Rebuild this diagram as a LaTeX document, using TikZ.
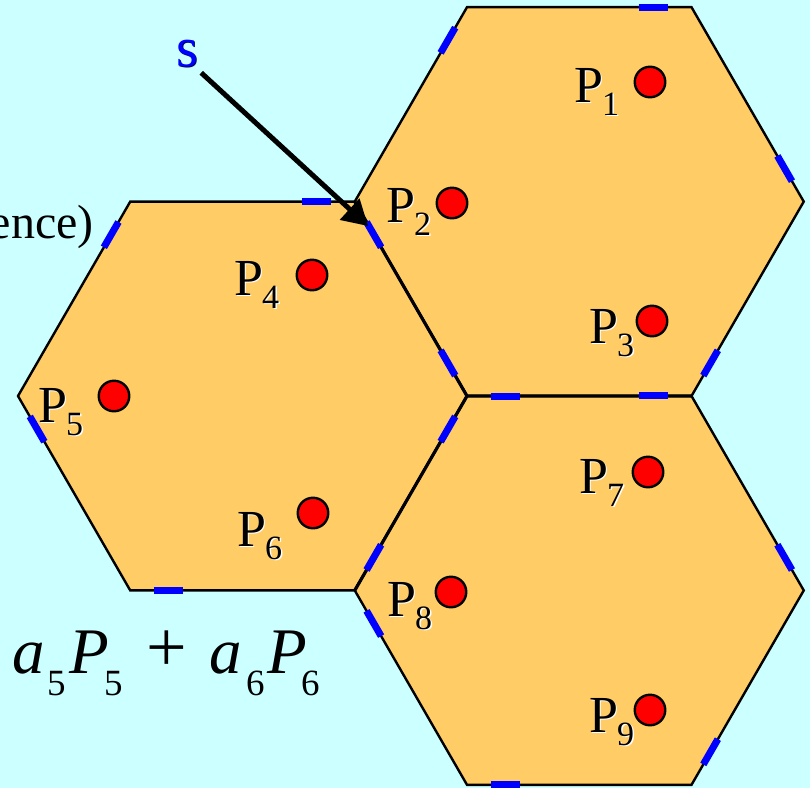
\documentclass[tikz,border=0pt]{standalone}
\usepackage{fontspec}
\setmainfont{Liberation Serif}
\usetikzlibrary{arrows.meta,calc}
\definecolor{bgcyan}{HTML}{CCFFFF}
\definecolor{hexfill}{HTML}{FFCC66}
\definecolor{dotred}{HTML}{FF0000}
\definecolor{dashblue}{HTML}{0000FF}
\definecolor{sshadow}{HTML}{000066}
\newcommand{\plab}[1]{{\fontsize{52}{52}\selectfont P}\kern-1pt\raisebox{-13pt}{\fontsize{34}{34}\selectfont #1}}
\newcommand{\Plabel}[4]{%
  \node[pshadow] (#1s) at (#2+1.5,#3+1.5) {\plab{#4}};
  \node[plabel] (#1) at (#2,#3) {\plab{#4}};}
\begin{document}
\begin{tikzpicture}[x=1pt,y=-1pt,
  hexa/.style={fill=hexfill,draw=black,line width=2.4pt,line join=miter},
  shared/.style={draw=black,line width=3.2pt},
  bdash/.style={draw=dashblue,line width=7pt},
  pdot/.style={circle,fill=dotred,draw=black,line width=2.4pt,minimum size=30.5pt,inner sep=0pt},
  plabel/.style={anchor=base west,inner sep=0pt,text=black},
  pshadow/.style={anchor=base west,inner sep=0pt,text=white},
  arrowline/.style={draw=black,line width=5pt,-{Triangle[length=25pt,width=28pt]}},
]
\fill[bgcyan] (0,0) rectangle (810,788);
\useasboundingbox (0,0) rectangle (810,788);

% hexagon centres
\coordinate (H1) at (579.25,201.6);
\coordinate (H2) at (242.5,396);
\coordinate (H3) at (579.25,590.4);

\foreach \c in {H1,H2,H3}
  \draw[hexa] ($(\c)+(0:224.5)$) -- ($(\c)+(60:224.5)$) -- ($(\c)+(120:224.5)$)
     -- ($(\c)+(180:224.5)$) -- ($(\c)+(240:224.5)$) -- ($(\c)+(300:224.5)$) -- cycle;

% shared edges (y axis points down: angle 60 is lower right)
\coordinate (V) at ($(H1)+(120:224.5)$);
\coordinate (L1) at ($(H1)+(180:224.5)$);
\coordinate (BR1) at ($(H1)+(60:224.5)$);
\coordinate (BR2) at ($(H2)+(60:224.5)$);
\draw[shared] (L1) -- (V) -- (BR1);
\draw[shared] (V) -- (BR2);

% blue edge marks, clockwise on screen
\foreach \c in {H1,H2,H3}
  \foreach \a in {180,240,300,0,60,120}
    \draw[bdash] ($(\c)+0.235*(\a:224.5)+0.765*(\a+60:224.5)$)
              -- ($(\c)+0.105*(\a:224.5)+0.895*(\a+60:224.5)$);

% red points
\node[pdot] (d1) at (650,82) {};
\node[pdot] (d2) at (452,203) {};
\node[pdot] (d3) at (652,321) {};
\node[pdot] (d4) at (312,275) {};
\node[pdot] (d5) at (114,396) {};
\node[pdot] (d6) at (313,513) {};
\node[pdot] (d7) at (648,472) {};
\node[pdot] (d8) at (451,592) {};
\node[pdot] (d9) at (650,710) {};

% labels
\Plabel{p1}{574}{102}{1}
\Plabel{p2}{386}{222}{2}
\Plabel{p3}{589}{343}{3}
\Plabel{p4}{234}{295}{4}
\Plabel{p5}{38}{422}{5}
\Plabel{p6}{237}{546}{6}
\Plabel{p7}{579}{493}{7}
\Plabel{p8}{387}{616}{8}
\Plabel{p9}{589}{732}{9}

% s and arrow
\node[anchor=base west,inner sep=0pt,text=sshadow,font=\fontsize{56}{56}\selectfont] (ssh) at (177.2,67.2) {s};
\node[anchor=base west,inner sep=0pt,text=dashblue,font=\fontsize{56}{56}\selectfont] (s) at (176,66) {s};
\coordinate (tip) at (368,226);
\draw[arrowline] ([shift={(3,6)}]s.south east) -- (tip);

% cut text at left
\node[anchor=base east,inner sep=0pt,font=\fontsize{48}{48}\selectfont] (ence) at (94,238) {ence)};

% formula
\node[anchor=base west,inner sep=0pt,font=\fontsize{65}{65}\selectfont] (formula) at (12,673)
 {\makebox[35pt][l]{\itshape a}%
  \makebox[22pt][l]{\raisebox{-22pt}{\fontsize{37}{37}\selectfont 5}}%
  \makebox[35pt][l]{\itshape P}%
  \makebox[42pt][l]{\raisebox{-22pt}{\fontsize{37}{37}\selectfont 5}}%
  \makebox[63pt][l]{\raisebox{2pt}{\fontsize{72}{72}\selectfont +}}%
  \makebox[37pt][l]{\itshape a}%
  \makebox[21pt][l]{\raisebox{-22pt}{\fontsize{37}{37}\selectfont 6}}%
  \makebox[34pt][l]{\itshape P}%
  \raisebox{-22pt}{\fontsize{37}{37}\selectfont 6}};
\end{tikzpicture}
\end{document}
